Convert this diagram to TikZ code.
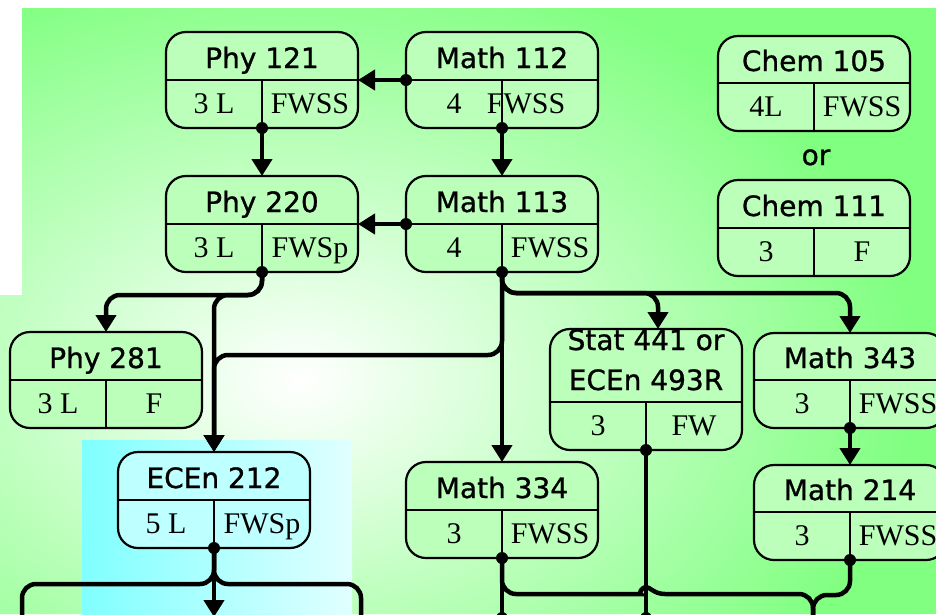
\documentclass[tikz,border=0pt]{standalone}
\usepackage{fontspec}
\setmainfont{Liberation Serif}
\newfontfamily\comicfont[FakeBold=1]{DejaVu Sans}
\usetikzlibrary{arrows.meta}
\definecolor{bggreen}{RGB}{128,255,128}
\definecolor{boxgreen}{RGB}{187,255,187}
\definecolor{boxcyan}{RGB}{190,255,255}
\definecolor{cyanleft}{RGB}{128,255,255}
\definecolor{cyanright}{RGB}{225,255,255}
% one course: box, rules and its three texts
\newcommand{\course}[8][]{%
  \draw (#3,#4+48) node[course,anchor=south,minimum height=#5+48,#1] (#2) {};
  \draw[divider] (#3-96,#4) -- (#3+96,#4);
  \draw[divider] (#3,#4) -- (#3,#4+48);
  \draw (#3,#4-12) node[heading] (#2-title) {#6};
  \draw (#3-48,#4+33) node[cellnum] (#2-cr) {#7};
  \draw (#3+48,#4+33) node[cellnum] (#2-term) {#8};
}
\begin{document}
\begin{tikzpicture}[x=1pt,y=-1pt,inner sep=0pt,outer sep=0pt,
course/.style={draw,rectangle,rounded corners=20pt,line width=2.2pt,minimum width=192pt,fill=boxgreen},
divider/.style={line width=2.2pt},
heading/.style={font=\comicfont\fontsize{28}{40}\selectfont,anchor=base},
cellnum/.style={font=\fontsize{30}{36}\selectfont,anchor=base},
wire/.style={line width=4.5pt,rounded corners=14pt},
feed/.style={wire,-{Triangle[length=17pt,width=20pt]}}]
\clip (0,0) rectangle (947,614);
\fill[white] (0,0) rectangle (947,614);
\begin{scope}
\clip (0,295) -- (22,295) -- (22,8) -- (936,8) -- (936,614) -- (0,614) -- cycle;
\fill[bggreen] (0,0) rectangle (947,614);
\shade[inner color=white,outer color=bggreen] (-320,-50) rectangle (920,810);
\end{scope}
\shade[left color=cyanleft,right color=cyanright] (82,440) rectangle (352,614);
% courses
\course{phy121}{262}{80}{48}{Phy 121}{3 L}{FWSS}
\course{math112}{502}{80}{48}{Math 112}{4}{\hspace*{-48pt}FWSS}
\course{chem105}{814}{83}{47}{Chem 105}{4L}{FWSS}
\course{phy220}{262}{224}{48}{Phy 220}{3 L}{FWSp}
\course{math113}{502}{224}{48}{Math 113}{4}{FWSS}
\course{chem111}{814}{228}{48}{Chem 111}{3}{F}
\course{phy281}{106}{380}{48}{Phy 281}{3 L}{F}
\course{stat}{646}{402}{73}{\begin{tabular}[b]{@{}c@{}}Stat 441 or\\ECEn 493R\end{tabular}}{3}{FW}
\course{math343}{850}{380}{47}{Math 343}{3}{FWSS}
\course[fill=boxcyan]{ecen212}{214}{500}{48}{ECEn 212}{5 L}{FWSp}
\course{math334}{502}{510}{48}{Math 334}{3}{FWSS}
\course{math214}{850}{512}{47}{Math 214}{3}{FWSS}
\draw (816,165) node[heading] (orword) {or};
% prerequisite links
\draw[feed] (math112.west) -- (phy121.east);
\draw[feed] (phy121.south) -- (phy220.north);
\draw[feed] (math112.south) -- (math113.north);
\draw[feed] (math113.west) -- (phy220.east);
\draw[feed] (phy220.south) -- ++(0,23) -| (phy281.north);
\draw[feed] (phy220.south) -- ++(0,23) -| (ecen212.north);
\draw[feed] (math113.south) -- ++(0,83) -| (ecen212.north);
\draw[feed] (math113.south) -- (math334.north);
\draw[feed] (math113.south) -- ++(0,21) -| ([xshift=12pt]stat.north);
\draw[feed] (math113.south) -- ++(0,21) -| (math343.north);
\draw[feed] (math343.south) -- (math214.north);
% links leaving the bottom
\coordinate (ecenout) at (214,617);
\coordinate (leftout) at (22,650);
\coordinate (rightout) at (361,650);
\coordinate (m334out) at (502,618);
\coordinate (statout) at (646,618);
\coordinate (braceout) at (813,650);
\draw[feed] (ecen212.south) -- (ecenout);
\draw[wire] (ecen212.south) -- ++(0,36) -| (leftout);
\draw[wire] (ecen212.south) -- ++(0,36) -| (rightout);
\draw[wire] (math334.south) -- (m334out);
\draw[wire] (stat.south) -- (statout);
\draw[wire] (math334.south) |- (627,594) [sharp corners] .. controls (638,594) and (642,587) .. (646,587)
  .. controls (650,587) and (654,594) .. (665,594) [rounded corners=14pt] -| (braceout);
\draw[wire] (math214.south) -- ++(0,35) -| (braceout);
\foreach \p in {math112.west,math113.west,phy121.south,math112.south,phy220.south,math113.south,
  ecen212.south,math334.south,stat.south,math343.south,math214.south,m334out,statout}
  \fill (\p) circle (6pt);
\fill[white] (936,0) rectangle (947,614);
\end{tikzpicture}
\end{document}
